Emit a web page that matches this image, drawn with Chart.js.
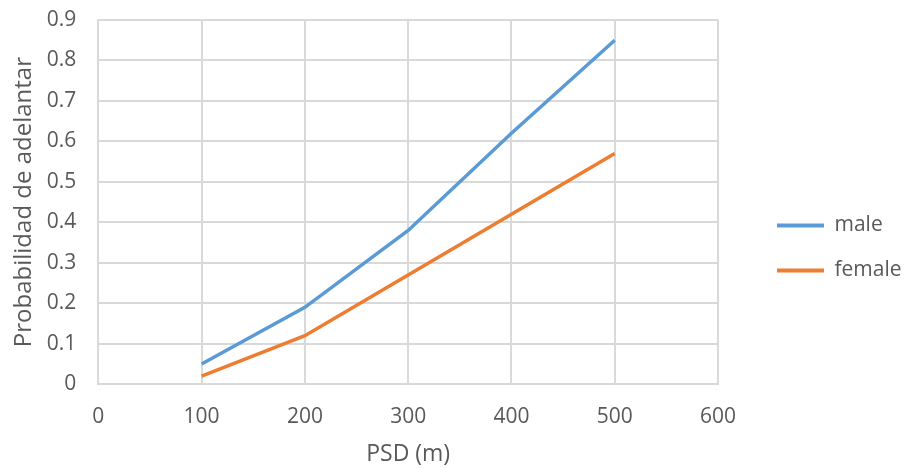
<!DOCTYPE html>
<html>
<head>
<meta charset="utf-8">
<script src="https://cdn.jsdelivr.net/npm/chart.js@4/dist/chart.umd.min.js"></script>
<style>
html,body{margin:0;padding:0;background:#fff;}
#wrap{width:906px;height:468px;position:relative;}
</style>
</head>
<body>
<div id="wrap"><canvas id="c" width="906" height="468"></canvas></div>
<script>
const psd = [100, 200, 300, 400, 500];
const male = [0.05, 0.19, 0.38, 0.62, 0.85];
const female = [0.02, 0.12, 0.27, 0.42, 0.57];
const seriesNames = ['male', 'female'];
const xTitle = 'PSD (m)';
const yTitle = 'Probabilidad de adelantar';

const FONT = "'Open Sans', 'Liberation Sans', sans-serif";
const TXT = '#595959';
const GRID = '#d9d9d9';

const legendPlace = {
  id: 'legendPlace',
  beforeUpdate(chart) {
    const lg = chart.legend;
    if (lg && !lg._patched) {
      const orig = lg.fit;
      lg.fit = function () { orig.call(this); this.width = 188; };
      lg._patched = true;
    }
  },
  afterLayout(chart) {
    const lg = chart.legend;
    if (!lg) return;
    const h = lg.height;
    lg.left = 753; lg.right = 906;
    lg.top = 191; lg.bottom = 191 + h;
  }
};

new Chart(document.getElementById('c'), {
  type: 'line',
  data: {
    datasets: [
      { label: seriesNames[0], data: psd.map((x, i) => ({x, y: male[i]})), borderColor: '#5b9bd5', backgroundColor: '#5b9bd5', borderWidth: 3.5, pointRadius: 0, tension: 0 },
      { label: seriesNames[1], data: psd.map((x, i) => ({x, y: female[i]})), borderColor: '#ed7d31', backgroundColor: '#ed7d31', borderWidth: 3.5, pointRadius: 0, tension: 0 }
    ]
  },
  plugins: [legendPlace],
  options: {
    responsive: false,
    animation: false,
    layout: { padding: { left: 10, right: 0, top: 20, bottom: 0 } },
    plugins: {
      legend: {
        position: 'right',
        align: 'start',
        labels: {
          boxWidth: 47, boxHeight: 4, padding: 24,
          color: TXT, font: { family: FONT, size: 21 },
          generateLabels(chart) {
            return chart.data.datasets.map((ds, i) => ({
              text: ds.label, fillStyle: ds.borderColor, strokeStyle: ds.borderColor,
              lineWidth: 0, hidden: false, datasetIndex: i, fontColor: TXT
            }));
          }
        }
      },
      tooltip: { enabled: false }
    },
    scales: {
      x: {
        type: 'linear', min: 0, max: 600,
        ticks: { stepSize: 100, color: TXT, font: { family: FONT, size: 21 }, padding: 20, maxRotation: 0 },
        grid: { color: GRID, lineWidth: 2, drawTicks: false },
        border: { color: GRID, width: 2 },
        title: { display: true, text: xTitle, color: TXT, font: { family: FONT, size: 23 }, padding: { top: -9, bottom: 0 } }
      },
      y: {
        min: 0, max: 0.9,
        afterFit(s) { s.paddingTop = 0; },
        ticks: { stepSize: 0.1, color: TXT, font: { family: FONT, size: 21 }, padding: 22,
          callback: v => v === 0 ? '0' : (+v).toFixed(1) },
        grid: { color: GRID, lineWidth: 2, drawTicks: false },
        border: { color: GRID, width: 2 },
        title: { display: true, text: yTitle, color: TXT, font: { family: FONT, size: 24 }, padding: { top: 0, bottom: -14 } }
      }
    }
  }
});
</script>
</body>
</html>
